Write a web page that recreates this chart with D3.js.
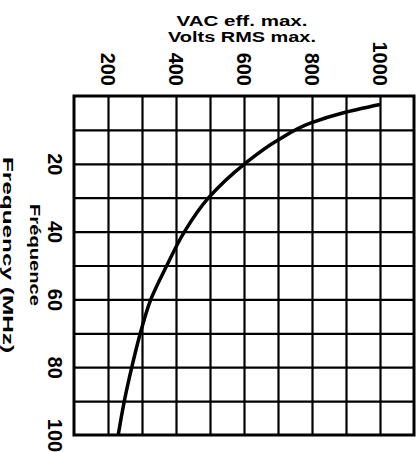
<!DOCTYPE html>
<html>
<head>
<meta charset="utf-8">
<script src="https://cdn.jsdelivr.net/npm/d3@7"></script>
<style>
  body { margin: 0; background: #fff; }
  text { font-family: "Liberation Sans", Arial, sans-serif; fill: #000; }
</style>
</head>
<body>
<div id="chart"></div>
<script>
// frequency (MHz) along the vertical axis, max voltage along the top
var freq  = [2.5, 5, 8, 13, 20, 30, 40, 50, 60, 70, 80, 90, 100];
var volts = [1000, 890, 795, 700, 602, 496, 425, 373, 326, 295, 270, 248, 230];

var voltTicks = [200, 400, 600, 800, 1000];
var freqTicks = [20, 40, 60, 80, 100];
var titleTop = ["VAC eff. max.", "Volts RMS max."];
var titleSide = ["Fréquence", "Frequency (MHz)"];

var width = 420, height = 452;
var plotL = 74, plotR = 414, plotT = 96, plotB = 435;

var svg = d3.select("#chart").append("svg")
    .attr("width", width)
    .attr("height", height);

var x = d3.scaleLinear().domain([100, 1100]).range([plotL, plotR]);
var y = d3.scaleLinear().domain([0, 100]).range([plotT, plotB]);

// grid
svg.append("g")
    .attr("transform", "translate(0," + plotT + ")")
    .call(d3.axisBottom(x).tickValues(d3.range(200, 1100, 100)).tickSize(plotB - plotT).tickFormat(""))
    .call(function(g) { g.select(".domain").remove(); })
    .selectAll("line").attr("stroke", "#000").attr("stroke-width", 2.2);

svg.append("g")
    .attr("transform", "translate(" + plotL + ",0)")
    .call(d3.axisRight(y).tickValues(d3.range(10, 100, 10)).tickSize(plotR - plotL).tickFormat(""))
    .call(function(g) { g.select(".domain").remove(); })
    .selectAll("line").attr("stroke", "#000").attr("stroke-width", 2.2);

// frame
svg.append("rect")
    .attr("x", plotL).attr("y", plotT)
    .attr("width", plotR - plotL).attr("height", plotB - plotT)
    .attr("fill", "none").attr("stroke", "#000").attr("stroke-width", 3);

// top tick labels, turned a quarter
var topAxis = svg.append("g")
    .attr("transform", "translate(0,86)")
    .call(d3.axisTop(x).tickValues(voltTicks).tickSize(0).tickPadding(0).tickFormat(d3.format("d")));
topAxis.select(".domain").remove();
topAxis.selectAll("text")
    .attr("transform", "rotate(90)")
    .attr("x", 0).attr("y", 0)
    .attr("dy", "0.36em")
    .attr("text-anchor", "end")
    .style("font-size", "20px")
    .style("font-weight", "bold");

// left tick labels
var sideAxis = svg.append("g")
    .attr("transform", "translate(55,0)")
    .call(d3.axisLeft(y).tickValues(freqTicks).tickSize(0).tickPadding(0));
sideAxis.select(".domain").remove();
sideAxis.selectAll("text")
    .attr("transform", "rotate(90)")
    .attr("x", 0).attr("y", 0)
    .attr("dy", "0.36em")
    .attr("text-anchor", "middle")
    .style("font-size", "20px")
    .style("font-weight", "bold");

// curve
var line = d3.line()
    .x(function(d) { return x(d[1]); })
    .y(function(d) { return y(d[0]); })
    .curve(d3.curveMonotoneY);

svg.append("path")
    .datum(d3.zip(freq, volts))
    .attr("d", line)
    .attr("fill", "none")
    .attr("stroke", "#000")
    .attr("stroke-width", 3.5);

// titles
svg.selectAll(".ttop").data(titleTop).enter().append("text")
    .attr("x", 242)
    .attr("y", function(d, i) { return 26 + i * 16; })
    .attr("text-anchor", "middle")
    .attr("textLength", function(d, i) { return i ? 148 : 131; })
    .attr("lengthAdjust", "spacingAndGlyphs")
    .style("font-size", "14px")
    .style("font-weight", "bold")
    .text(function(d) { return d; });

svg.selectAll(".tside").data(titleSide).enter().append("text")
    .attr("transform", function(d, i) { return "translate(" + (i ? 3 : 30) + ",255) rotate(90)"; })
    .attr("text-anchor", "middle")
    .attr("textLength", function(d, i) { return i ? 196 : 102; })
    .attr("lengthAdjust", "spacingAndGlyphs")
    .style("font-size", "15px")
    .style("font-weight", "bold")
    .text(function(d) { return d; });
</script>
</body>
</html>
